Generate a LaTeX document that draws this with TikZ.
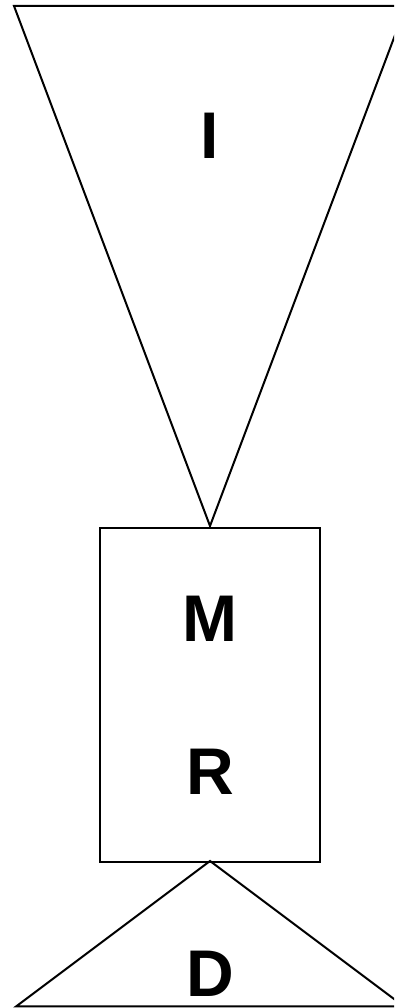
\documentclass[tikz,border=0pt]{standalone}
\usepackage{fontspec}
\setmainfont{Liberation Sans}
\begin{document}
\begin{tikzpicture}[x=1pt,y=1pt,
  shapeline/.style={draw=black,line width=2pt,line join=miter},
  letter/.style={anchor=base,inner sep=0pt,font=\fontsize{66}{66}\selectfont\bfseries}]
\useasboundingbox (0,0) rectangle (394,1008);
\clip (0,0) rectangle (394,1008);
\fill[white] (0,0) rectangle (394,1008);
% top inverted triangle
\coordinate (tl) at (14,1002);
\coordinate (tr) at (406,1002);
\coordinate (ta) at (210,482);
\draw[shapeline] (tl) -- (tr) -- (ta) -- cycle;
% rectangle
\node[shapeline,minimum width=220pt,minimum height=334pt,inner sep=0pt,anchor=north] (box) at (210,481) {};
% bottom triangle
\coordinate (ba) at (210,147);
\coordinate (bl) at (16,1.5);
\coordinate (br) at (404,1.5);
\draw[shapeline] (ba) -- (br) -- (bl) -- cycle;
% letters
\node[letter] (I) at (210,849) {I};
\node[letter] (M) at (210,366) {M};
\node[letter] (R) at (210,213) {R};
\node[letter] (D) at (210,11) {D};
\end{tikzpicture}
\end{document}
